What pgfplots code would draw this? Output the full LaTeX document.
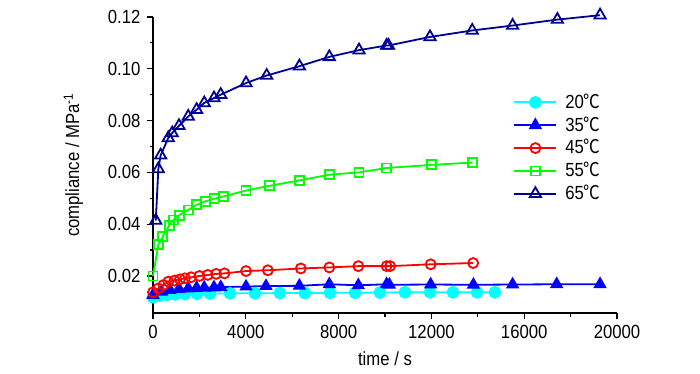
\documentclass[border=0pt]{standalone}
\usepackage{pgfplots}
\pgfplotsset{compat=1.18}
\usepackage{fontspec}
\setmainfont{Liberation Sans}[FakeStretch=0.88]
\newfontfamily\cjk{Noto Sans CJK SC}[FakeStretch=0.88]
\newcommand{\dC}{{\cjk ℃}}
\definecolor{cA}{RGB}{0,255,255}
\definecolor{cB}{RGB}{0,0,255}
\definecolor{cC}{RGB}{255,0,0}
\definecolor{cD}{RGB}{0,255,0}
\definecolor{cE}{RGB}{0,0,150}
\begin{document}
\fontsize{19}{22}\selectfont
\begin{tikzpicture}
\begin{axis}[name=ax, scale only axis, width=464pt, height=296pt,
  xmin=0, xmax=20000, ymin=0.0057, ymax=0.12,
  axis lines*=left,
  xtick={0,4000,8000,12000,16000,20000},
  minor xtick={2000,6000,10000,14000,18000},
  ytick={0.02,0.04,0.06,0.08,0.10,0.12},
  minor ytick={0.01,0.03,0.05,0.07,0.09,0.11},
  tick align=outside, major tick length=6pt, minor tick length=3.5pt,
  every tick/.style={black, line width=1.2pt},
  axis line style={black, line width=1.4pt},
  scaled ticks=false,
  /pgf/number format/1000 sep={},
  /pgf/number format/assume math mode=true,
  every tick label/.append style={font=\fontsize{19}{22}\selectfont},
  label style={font=\fontsize{19}{22}\selectfont},
  yticklabel style={/pgf/number format/fixed, /pgf/number format/fixed zerofill, /pgf/number format/precision=2},
  xlabel={time / s}, ylabel={compliance / MPa\textsuperscript{-1}},
  ylabel shift=12pt,
  legend style={draw=none, fill=none, at={(0.77,0.755)}, anchor=north west, row sep=1.5pt,
     font=\fontsize{19}{22}\selectfont,
     /tikz/every odd column/.append style={column sep=6pt}},
  legend cell align=left,
  legend image code/.code={\draw[mark repeat=2, mark phase=2, #1] plot coordinates {(0pt,0pt) (21pt,0pt) (42pt,0pt)};},
  clip=false,
]
\addplot[color=cA, line width=1.8pt, mark=*, mark size=5.5pt, mark options={fill=cA, draw=cA}] coordinates {
(0,0.0118) (300,0.0124) (600,0.0127) (950,0.0129) (1380,0.0130) (1900,0.0131) (2460,0.0132)
(3320,0.0133) (4400,0.0133) (5470,0.0134) (6550,0.0134) (7630,0.0135) (8710,0.0135) (9780,0.0136)
(10860,0.0137) (11940,0.0137) (12930,0.0137) (13970,0.0137) (14740,0.0137)};
\addlegendentry{20\dC}
\addplot[color=cB, line width=1.8pt, mark=triangle*, mark size=6pt, mark options={fill=cB, draw=cB}] coordinates {
(0,0.0127) (370,0.0139) (730,0.0146) (1120,0.0150) (1520,0.0152) (1880,0.0154) (2210,0.0155) (2630,0.0156) (2920,0.0157)
(4010,0.0159) (4870,0.0161) (6310,0.0162) (7600,0.0168) (8850,0.0164) (10070,0.0168) (10190,0.0166)
(11970,0.0167) (13810,0.0166) (15500,0.0167) (17400,0.0168) (19270,0.0168)};
\addlegendentry{35\dC}
\addplot[color=cC, line width=1.8pt, mark=o, mark size=5pt, mark options={fill=white, draw=cC}] coordinates {
(0,0.0137) (230,0.0152) (450,0.0165) (660,0.0178) (920,0.0182) (1160,0.0187) (1380,0.0191) (1640,0.0195)
(2000,0.0200) (2360,0.0204) (2720,0.0208) (3080,0.0210) (4010,0.0219) (4950,0.0222) (6370,0.0229)
(7600,0.0233) (8850,0.0238) (10070,0.0238) (10220,0.0238) (11970,0.0245) (13800,0.0250)};
\addlegendentry{45\dC}
\addplot[color=cD, line width=1.8pt, mark=square, mark size=4.5pt, mark options={fill=white, draw=cD}] coordinates {
(0,0.0200) (230,0.0320) (420,0.0352) (700,0.0395) (880,0.0416) (1130,0.0435) (1520,0.0455) (1880,0.0475)
(2280,0.0489) (2630,0.0498) (3030,0.0507) (4010,0.0530) (5010,0.0548) (6300,0.0569) (7600,0.0591)
(8880,0.0600) (10070,0.0617) (12010,0.0629) (13780,0.0638)};
\addlegendentry{55\dC}
\addplot[color=cE, line width=1.8pt, mark=triangle, mark size=6.5pt, mark options={fill=white, draw=cE}] coordinates {
(120,0.0414) (230,0.0613) (330,0.0666) (660,0.0733) (830,0.0752) (1120,0.0780) (1520,0.0816) (1880,0.0842)
(2210,0.0868) (2630,0.0887) (2920,0.0900) (4010,0.0945) (4900,0.0974) (6310,0.1010) (7600,0.1046)
(8880,0.1072) (10070,0.1090) (10150,0.1090) (11940,0.1123) (13760,0.1148) (15500,0.1167) (17430,0.1190) (19270,0.1207)};
\addlegendentry{65\dC}
\end{axis}
\pgfresetboundingbox
\path ([xshift=-153pt,yshift=-60pt]ax.south west) rectangle ([xshift=547pt,yshift=313pt]ax.south west);
\end{tikzpicture}
\end{document}
